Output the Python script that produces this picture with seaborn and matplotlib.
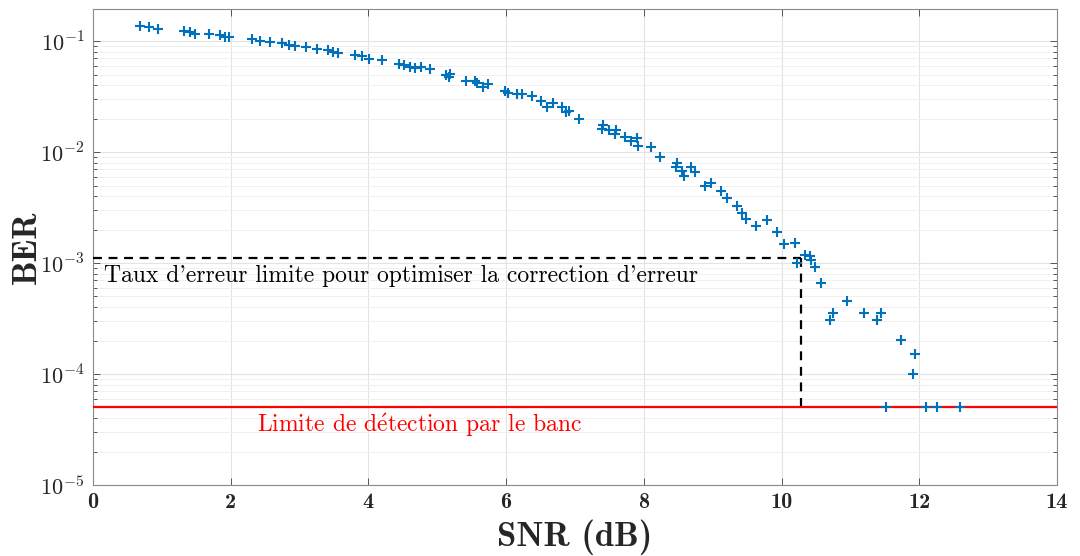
import numpy as np
import pandas as pd
import matplotlib
matplotlib.use("Agg")
import matplotlib.pyplot as plt
import matplotlib.ticker as mticker
import seaborn as sns

# Measured bit error rate versus signal-to-noise ratio
snr_db = [0.69, 0.81, 0.95, 1.32, 1.41, 1.48, 1.69, 1.84, 1.91, 1.97,
          2.31, 2.43, 2.57, 2.75, 2.85, 2.94, 3.09, 3.26, 3.41, 3.49,
          3.56, 3.81, 3.90, 4.01, 4.20, 4.44, 4.51, 4.60, 4.67, 4.77,
          4.89, 5.13, 5.19, 5.17, 5.42, 5.55, 5.57, 5.67, 5.73, 5.99,
          6.02, 6.16, 6.23, 6.38, 6.51, 6.60, 6.68, 6.81, 6.87, 6.92,
          7.06, 7.41, 7.39, 7.50, 7.58, 7.60, 7.73, 7.81, 7.90, 7.91,
          8.10, 8.23, 8.48, 8.46, 8.55, 8.59, 8.68, 8.74, 8.89, 8.97,
          9.12, 9.21, 9.35, 9.43, 9.48, 9.63, 9.79, 9.94, 10.03, 10.19,
          10.22, 10.34, 10.41, 10.43, 10.48, 10.57, 10.95, 10.75, 10.70, 11.20,
          11.44, 11.39, 11.74, 11.94, 11.91, 11.52, 12.10, 12.26, 12.59]
ber = [0.137, 0.135, 0.128, 0.123, 0.122, 0.117, 0.115, 0.113, 0.110, 0.109,
       0.104, 0.100, 0.0986, 0.0959, 0.0933, 0.0901, 0.0888, 0.0852, 0.0829, 0.0807,
       0.0784, 0.0758, 0.0732, 0.0698, 0.0674, 0.0619, 0.0607, 0.0586, 0.0574, 0.0586,
       0.0558, 0.0493, 0.0511, 0.0476, 0.0437, 0.0437, 0.0420, 0.0386, 0.0414, 0.0356,
       0.0341, 0.0337, 0.0337, 0.0320, 0.0288, 0.0255, 0.0277, 0.0255, 0.0230, 0.0234,
       0.0200, 0.0174, 0.0163, 0.0159, 0.0146, 0.0159, 0.0136, 0.0127, 0.0135, 0.0113,
       0.0112, 0.00912, 0.00794, 0.00730, 0.00671, 0.00614, 0.00741, 0.00658, 0.00499, 0.00524,
       0.00450, 0.00386, 0.00324, 0.00280, 0.00250, 0.00214, 0.00246, 0.00189, 0.00148, 0.00153,
       0.00101, 0.00118, 0.00117, 0.00106, 0.000924, 0.000663, 0.000455, 0.000357, 0.000305, 0.000355,
       0.000357, 0.000305, 0.000203, 0.000152, 0.000101, 5.0e-5, 5.0e-5, 5.0e-5, 5.0e-5]

# Reference levels
ber_fec_limit = 1.1e-3
snr_fec_limit = 10.28
ber_detection_floor = 5e-5

x_ticks = [0, 2, 4, 6, 8, 10, 12, 14]
y_exponents = [-5, -4, -3, -2, -1]

df = pd.DataFrame({"SNR": snr_db, "BER": ber})

sns.set_style("ticks")
plt.rcParams["mathtext.fontset"] = "cm"
plt.rcParams["axes.unicode_minus"] = False

fig = plt.figure(figsize=(10.8, 5.56), dpi=100)
ax = fig.add_axes([0.0861, 0.1277, 0.8926, 0.8570])

blue = "#0072BD"
sns.scatterplot(data=df, x="SNR", y="BER", marker="+", s=42, linewidth=1.5,
                color=blue, ax=ax, zorder=4, legend=False)

ax.set_yscale("log")
ax.set_xlim(0, 14)
ax.set_ylim(1e-5, 0.197)

# Error-correction threshold (dashed) and bench detection floor (red)
ax.plot([0, snr_fec_limit], [ber_fec_limit, ber_fec_limit], color="black",
        linestyle=(0, (4, 3)), linewidth=1.6, zorder=3)
ax.plot([snr_fec_limit, snr_fec_limit], [ber_fec_limit, ber_detection_floor],
        color="black", linestyle=(0, (4, 3)), linewidth=1.6, zorder=3)
ax.axhline(ber_detection_floor, color="#ff0000", linewidth=1.6, zorder=3)

ax.text(0.16, 7.6e-4, "Taux d'erreur limite pour optimiser la correction d'erreur",
        family="cmr10", fontsize=17, color="black", va="center", ha="left", zorder=5)
ax.text(2.38, 3.45e-5, r"Limite de d$\acute{\mathrm{e}}$tection par le banc",
        family="cmr10", fontsize=17, color="#ff0000", va="center", ha="left", zorder=5)

# Ticks and labels
ax.set_xticks(x_ticks)
ax.set_xticklabels([str(t) for t in x_ticks], family="cmb10", fontsize=16)
ax.set_yticks([10.0 ** e for e in y_exponents])
ax.set_yticklabels([r"$10^{%d}$" % e for e in y_exponents], fontsize=16)
ax.yaxis.set_minor_locator(mticker.LogLocator(base=10, subs=np.arange(2, 10)))
ax.yaxis.set_minor_formatter(mticker.NullFormatter())

ax.tick_params(which="both", direction="in", top=True, right=True,
               color="#555555", width=0.7)
ax.tick_params(which="major", length=5, pad=6)
ax.tick_params(which="minor", length=3)

ax.set_xlabel("SNR (dB)", family="cmb10", fontsize=25, labelpad=5)
ax.set_ylabel("BER", family="cmb10", fontsize=25, labelpad=-2)

ax.grid(True, which="major", color="#e3e3e3", linewidth=0.8, zorder=0)
ax.grid(True, which="minor", axis="y", color="#f0f0f0", linewidth=0.7, zorder=0)
ax.set_axisbelow(True)

for sp in ax.spines.values():
    sp.set_color("#8a8a8a")
    sp.set_linewidth(0.8)
    sp.set_visible(True)

fig.savefig("out.png", dpi=100, facecolor="white")
